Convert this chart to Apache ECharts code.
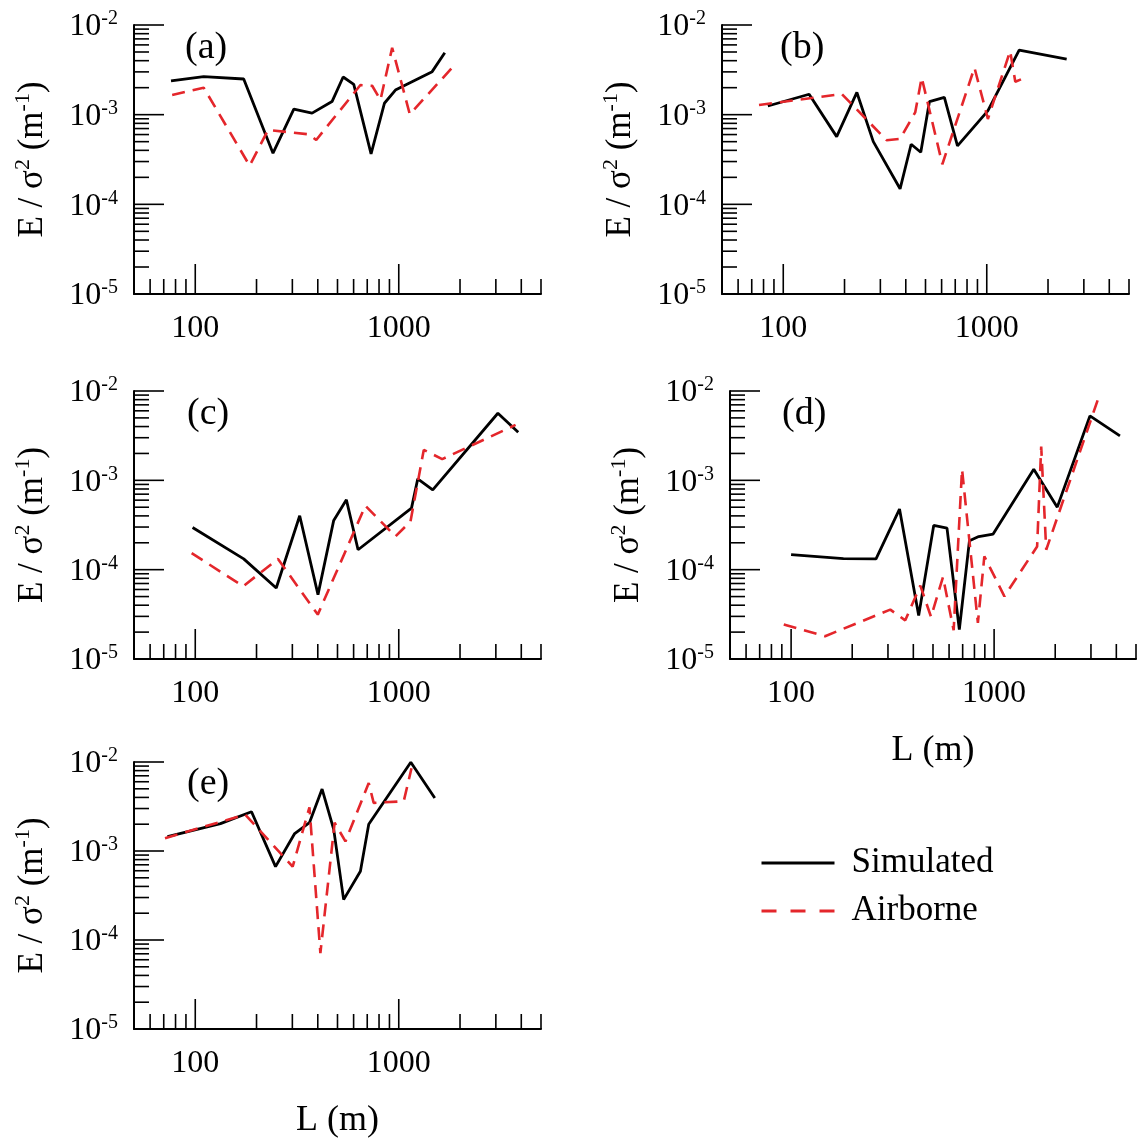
<!DOCTYPE html>
<html>
<head>
<meta charset="utf-8">
<script src="https://cdn.jsdelivr.net/npm/echarts@6/dist/echarts.min.js"></script>
<style>
  html, body { margin: 0; padding: 0; background: #fff; }
  #chart { width: 1142px; height: 1140px; }
</style>
</head>
<body>
<div id="chart"></div>
<script>
// Normalised energy E/σ² against length scale L, five cases (a)–(e)

// ---- data: length scale L (m) and E/σ² (1/m) ----
const simA_L = [76, 110, 173, 241, 305, 375, 470, 533, 601, 731, 850, 963, 1459, 1683];
const simA_E = [2.38e-3, 2.65e-3, 2.50e-3, 3.72e-4, 1.15e-3, 1.04e-3, 1.40e-3, 2.63e-3, 2.18e-3, 3.65e-4, 1.34e-3, 1.88e-3, 3.02e-3, 4.91e-3];
const airA_L = [77, 110, 185, 228, 361, 393, 648, 740, 813, 928, 1133, 1866];
const airA_E = [1.66e-3, 2.0e-3, 2.70e-4, 6.75e-4, 6.04e-4, 5.22e-4, 2.14e-3, 2.10e-3, 1.46e-3, 5.58e-3, 1.01e-3, 3.51e-3];

const simB_L = [84, 134, 183, 230, 277, 375, 425, 474, 523, 619, 718, 1012, 1443, 2470];
const simB_E = [1.25e-3, 1.69e-3, 5.69e-4, 1.77e-3, 5.0e-4, 1.49e-4, 4.68e-4, 3.81e-4, 1.40e-3, 1.56e-3, 4.48e-4, 1.10e-3, 5.26e-3, 4.16e-3];
const airB_L = [76, 194, 322, 375, 445, 479, 605, 870, 1013, 1303, 1381, 1488];
const airB_E = [1.28e-3, 1.70e-3, 5.19e-4, 5.37e-4, 1.06e-3, 2.59e-3, 2.80e-4, 3.34e-3, 8.95e-4, 5.13e-3, 2.33e-3, 2.50e-3];

const simC_L = [97, 173, 250, 326, 401, 479, 553, 631, 1155, 1240, 1469, 3070, 3864];
const simC_E = [2.97e-4, 1.32e-4, 6.24e-5, 4.01e-4, 5.26e-5, 3.56e-4, 6.05e-4, 1.67e-4, 4.89e-4, 1.04e-3, 7.83e-4, 5.64e-3, 3.45e-3];
const airC_L = [96, 172, 255, 400, 685, 964, 1142, 1327, 1635, 3750];
const airC_E = [1.53e-4, 6.52e-5, 1.32e-4, 3.14e-5, 5.19e-4, 2.36e-4, 3.47e-4, 2.19e-3, 1.73e-3, 4.17e-3];

const simD_L = [100, 181, 262, 342, 425, 504, 586, 674, 756, 840, 989, 1568, 2047, 2965, 4168];
const simD_E = [1.47e-4, 1.33e-4, 1.32e-4, 4.77e-4, 3.06e-5, 3.13e-4, 2.92e-4, 2.14e-5, 2.11e-4, 2.35e-4, 2.50e-4, 1.33e-3, 5.01e-4, 5.26e-3, 3.14e-3];
const airD_L = [92, 147, 308, 365, 433, 489, 560, 632, 695, 832, 895, 1124, 1629, 1706, 1806, 3281];
const airD_E = [2.43e-5, 1.80e-5, 3.57e-5, 2.71e-5, 6.63e-5, 2.96e-5, 8.28e-5, 2.10e-5, 1.33e-3, 2.53e-5, 1.41e-4, 5.03e-5, 1.82e-4, 2.39e-3, 1.67e-4, 8.63e-3];

const simE_L = [73, 133, 189, 248, 308, 364, 420, 479, 536, 648, 712, 1146, 1503];
const simE_E = [1.45e-3, 2.03e-3, 2.76e-3, 6.67e-4, 1.57e-3, 2.08e-3, 4.97e-3, 1.75e-3, 2.84e-4, 5.93e-4, 2.0e-3, 9.93e-3, 3.94e-3];
const airE_L = [71, 176, 301, 364, 412, 484, 547, 712, 753, 1058, 1155];
const airE_E = [1.39e-3, 2.57e-3, 6.67e-4, 3.10e-3, 7.13e-5, 2.08e-3, 1.28e-3, 5.80e-3, 3.47e-3, 3.62e-3, 8.51e-3];

const panelTags = ['(a)', '(b)', '(c)', '(d)', '(e)'];
const seriesNames = ['Simulated', 'Airborne'];

// axis ranges and tick values
const xRange = [50, 5000];
const yRange = [1e-5, 1e-2];
const xMajorTicks = [100, 1000];
const xMinorTicks = [50, 60, 70, 80, 90, 200, 300, 400, 500, 600, 700, 800, 900, 2000, 3000, 4000, 5000];
const yMajorTicks = [1e-4, 1e-3, 1e-2];
const yMinorTicks = [2e-5, 3e-5, 4e-5, 5e-5, 6e-5, 7e-5, 8e-5, 9e-5,
                     2e-4, 3e-4, 4e-4, 5e-4, 6e-4, 7e-4, 8e-4, 9e-4,
                     2e-3, 3e-3, 4e-3, 5e-3, 6e-3, 7e-3, 8e-3, 9e-3];

const panels = [
  [simA_L, simA_E, airA_L, airA_E],
  [simB_L, simB_E, airB_L, airB_E],
  [simC_L, simC_E, airC_L, airC_E],
  [simD_L, simD_E, airD_L, airD_E],
  [simE_L, simE_E, airE_L, airE_E]
];

// ---- layout ----
const FONT = '"Liberation Serif", "Times New Roman", Times, serif';
const RED = '#e4262b';
const grids = [
  { left: 134, top: 25,  width: 407, height: 269 },
  { left: 722, top: 25,  width: 407, height: 269 },
  { left: 134, top: 391, width: 407, height: 268 },
  { left: 730, top: 391, width: 406, height: 268 },
  { left: 134, top: 762, width: 407, height: 269 }
];
const tagOffset = [[51, 8], [58, 8], [53, 8], [52, 8], [53, 7]];
const xTitlePanels = [3, 4];

const zip = (xs, ys) => xs.map((x, i) => [x, ys[i]]);
const isPow10 = v => Math.abs(Math.log10(v) - Math.round(Math.log10(v))) < 1e-6;

// tick marks drawn inward from the axes through the axis scales
const tickData = [];
xMinorTicks.forEach(v => tickData.push([v, yRange[0], 0]));
xMajorTicks.forEach(v => tickData.push([v, yRange[0], 1]));
yMinorTicks.forEach(v => tickData.push([xRange[0], v, 2]));
yMajorTicks.forEach(v => tickData.push([xRange[0], v, 3]));

function renderTick(params, api) {
  const p = api.coord([api.value(0), api.value(1)]);
  const kind = api.value(2);
  const len = (kind === 1 || kind === 3) ? 30 : 15;
  const shape = kind < 2
    ? { x1: p[0], y1: p[1], x2: p[0], y2: p[1] - len }
    : { x1: p[0], y1: p[1], x2: p[0] + len, y2: p[1] };
  return { type: 'line', shape: shape, style: { stroke: '#000', lineWidth: 1.6 } };
}

const option = {
  backgroundColor: '#fff',
  animation: false,
  grid: grids.map(g => Object.assign({ containLabel: false }, g)),
  title: panelTags.map((t, i) => ({
    text: t,
    left: grids[i].left + tagOffset[i][0],
    top: grids[i].top + tagOffset[i][1] - 4,
    padding: 0,
    textStyle: { fontFamily: FONT, fontSize: 38, fontWeight: 'normal', color: '#000' }
  })),
  legend: {
    data: [
      { name: seriesNames[0], lineStyle: { width: 3 } },
      { name: seriesNames[1], lineStyle: { type: [15, 14], width: 2.8 } }
    ],
    orient: 'vertical',
    left: 760,
    top: 845,
    padding: 0,
    itemWidth: 73,
    itemHeight: 20,
    itemGap: 12,
    selectedMode: false,
    itemStyle: { opacity: 0 },
    textStyle: { fontFamily: FONT, fontSize: 35, color: '#000', lineHeight: 36, padding: [0, 0, 0, 12] }
  },
  xAxis: grids.map((g, i) => ({
    type: 'log',
    logBase: 10,
    gridIndex: i,
    min: xRange[0],
    max: xRange[1],
    name: xTitlePanels.includes(i) ? 'L (m)' : '',
    nameLocation: 'middle',
    nameGap: 74,
    nameTextStyle: { fontFamily: FONT, fontSize: 36, color: '#000' },
    axisLine: { show: true, onZero: false, lineStyle: { color: '#000', width: 2 } },
    axisTick: { show: false },
    splitLine: { show: false },
    minorTick: { show: false },
    axisLabel: {
      interval: 0,
      margin: 19,
      fontFamily: FONT,
      fontSize: 32,
      color: '#000',
      formatter: v => (isPow10(v) && v > 60 && v < 4000) ? String(Math.round(v)) : ''
    }
  })),
  yAxis: grids.map((g, i) => ({
    type: 'log',
    logBase: 10,
    gridIndex: i,
    min: yRange[0],
    max: yRange[1],
    name: '{n|E / σ}{s|2}{n| (m}{s|-1}{n|)}',
    nameLocation: 'middle',
    nameRotate: 90,
    nameGap: 84,
    nameTextStyle: {
      color: '#000',
      rich: {
        n: { fontFamily: FONT, fontSize: 35, color: '#000', lineHeight: 40, verticalAlign: 'bottom' },
        s: { fontFamily: FONT, fontSize: 22, color: '#000', lineHeight: 40, verticalAlign: 'top', padding: [2, 0, 0, 0] }
      }
    },
    axisLine: { show: true, onZero: false, lineStyle: { color: '#000', width: 2 } },
    axisTick: { show: false },
    splitLine: { show: false },
    minorTick: { show: false },
    axisLabel: {
      interval: 0,
      margin: 16,
      color: '#000',
      formatter: v => isPow10(v) ? '{b|10}{s|' + Math.round(Math.log10(v)) + '}' : '',
      rich: {
        b: { fontFamily: FONT, fontSize: 32, color: '#000', lineHeight: 36, verticalAlign: 'bottom' },
        s: { fontFamily: FONT, fontSize: 20, color: '#000', lineHeight: 36, verticalAlign: 'top', padding: [2, 0, 0, 0] }
      }
    }
  })),
  series: []
};

panels.forEach((p, i) => {
  option.series.push({
    type: 'custom',
    name: 'ticks' + i,
    xAxisIndex: i,
    yAxisIndex: i,
    silent: true,
    clip: false,
    renderItem: renderTick,
    data: tickData
  });
  option.series.push({
    type: 'line',
    name: seriesNames[0],
    xAxisIndex: i,
    yAxisIndex: i,
    symbol: 'none',
    z: 3,
    lineStyle: { color: '#000', width: 2.8 },
    itemStyle: { color: '#000' },
    data: zip(p[0], p[1])
  });
  option.series.push({
    type: 'line',
    name: seriesNames[1],
    xAxisIndex: i,
    yAxisIndex: i,
    symbol: 'none',
    z: 4,
    lineStyle: { color: RED, width: 2.6, type: [13, 8] },
    itemStyle: { color: RED },
    data: zip(p[2], p[3])
  });
});

const chart = echarts.init(document.getElementById('chart'), null, { renderer: 'canvas' });
chart.setOption(option);
</script>
</body>
</html>
